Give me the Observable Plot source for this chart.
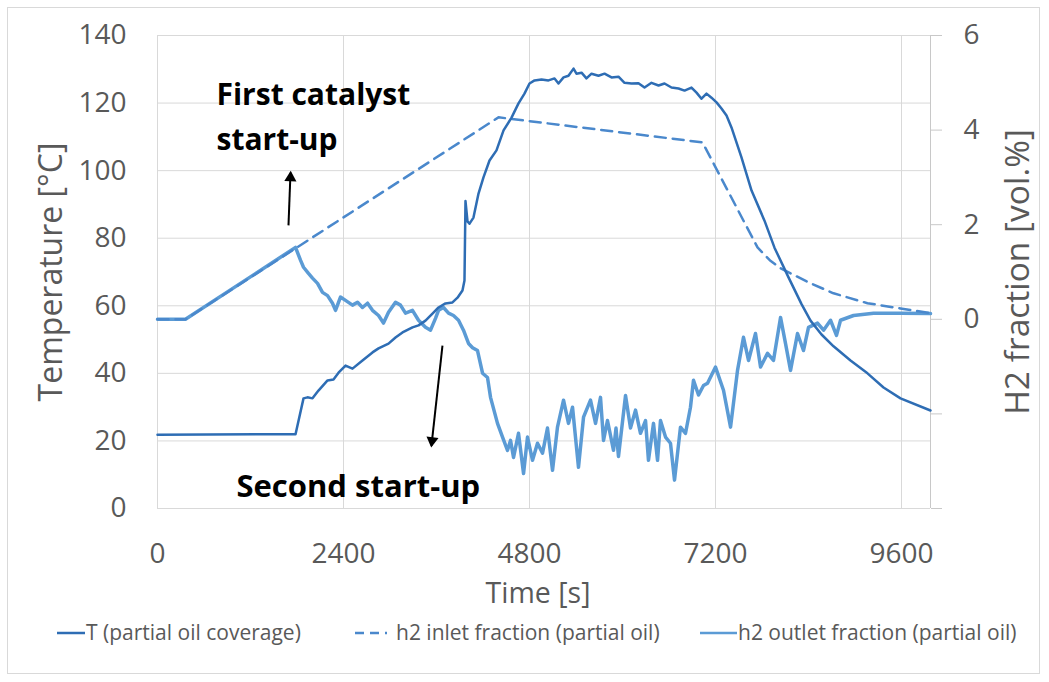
<!DOCTYPE html>
<html><head><meta charset="utf-8">
<script src="https://cdn.jsdelivr.net/npm/d3@7"></script>
<script src="https://cdn.jsdelivr.net/npm/@observablehq/plot@0.6"></script>
<style>
body{margin:0;background:#fff;font-family:"Open Sans",Lato,sans-serif;}
#wrap{position:relative;width:1049px;height:682px;overflow:hidden;background:#fff}
#border{position:absolute;left:7px;top:7px;width:1033px;height:667px;border:1px solid #d9d9d9;box-sizing:border-box}
#chart svg{display:block}
#legend{position:relative;width:1049px;height:25px;font-size:21px;color:#595959;line-height:25px}
#legend .item{position:absolute;top:0;white-space:nowrap;display:flex;align-items:center;height:25px}
#legend svg{display:block;margin-right:1px}
</style></head><body>
<div id="wrap"><div id="border"></div><div id="chart"></div><div id="legend"></div></div>
<script>
// Temperature (left axis, °C)
const time_T = [0, 1781, 1884, 1935, 2000, 2077, 2194, 2271, 2336, 2426, 2516, 2645, 2774, 2852, 2981, 3071, 3161, 3290, 3368, 3458, 3548, 3626, 3716, 3806, 3871, 3935, 3961, 3974, 4000, 4026, 4077, 4142, 4206, 4284, 4374, 4465, 4568, 4658, 4735, 4800, 4865, 4955, 5045, 5123, 5174, 5239, 5303, 5368, 5406, 5471, 5535, 5600, 5690, 5768, 5858, 5948, 6026, 6116, 6206, 6284, 6374, 6465, 6542, 6632, 6723, 6800, 6890, 6955, 7019, 7084, 7148, 7213, 7277, 7342, 7406, 7535, 7665, 7832, 7961, 8142, 8310, 8426, 8568, 8723, 8942, 9161, 9368, 9587, 9974];
const temp_T = [21.8, 22, 32.6, 32.9, 32.6, 34.9, 37.9, 38.2, 40.2, 42.3, 41.4, 43.8, 46.2, 47.4, 48.8, 50.6, 52.1, 53.6, 54.2, 55.6, 57.7, 59.5, 60.7, 61, 62.4, 64.5, 67.5, 91, 85, 84.3, 86.1, 93.2, 98, 103, 106, 111.9, 115.7, 119.9, 122.8, 125.8, 126.7, 127, 126.7, 127.3, 125.8, 127.6, 128.1, 130.2, 128.7, 129, 127.3, 128.7, 128.1, 128.7, 127.6, 127.8, 126, 125.8, 125.9, 124.6, 126, 125.2, 125.8, 124.6, 124.3, 123.7, 124.6, 123.1, 121.3, 122.8, 121.6, 120.2, 118.4, 116.3, 112.8, 103.9, 94.1, 85.2, 77.2, 68.4, 60.5, 55.6, 51.5, 48, 43.8, 40, 35.8, 32.6, 29];

// H2 inlet fraction (right axis, vol.%)
const time_in = [0, 361, 1781, 4400, 7032, 7742, 7900, 8039, 8400, 8723, 9161, 9587, 9974];
const h2_in = [0, 0, 1.5, 4.27, 3.74, 1.52, 1.25, 1.08, 0.78, 0.55, 0.34, 0.23, 0.13];

// H2 outlet fraction (right axis, vol.%)
const time_out = [0, 361, 1781, 1845, 1884, 1948, 2000, 2065, 2129, 2194, 2258, 2297, 2361, 2426, 2516, 2581, 2645, 2710, 2774, 2852, 2916, 2981, 3071, 3135, 3200, 3290, 3368, 3458, 3523, 3587, 3626, 3690, 3755, 3819, 3884, 3948, 4013, 4065, 4129, 4194, 4258, 4297, 4387, 4452, 4516, 4555, 4594, 4658, 4723, 4774, 4839, 4903, 4968, 5032, 5097, 5161, 5239, 5303, 5355, 5432, 5497, 5587, 5652, 5716, 5755, 5806, 5884, 5916, 5948, 6039, 6103, 6168, 6232, 6297, 6335, 6400, 6452, 6490, 6555, 6619, 6671, 6748, 6813, 6877, 6916, 6981, 7045, 7097, 7200, 7303, 7394, 7484, 7561, 7626, 7716, 7781, 7871, 7948, 8039, 8103, 8168, 8258, 8335, 8400, 8516, 8594, 8684, 8761, 8813, 8981, 9239, 9587, 9974];
const h2_out = [0, 0, 1.52, 1.25, 1.1, 0.97, 0.87, 0.76, 0.57, 0.5, 0.34, 0.19, 0.47, 0.4, 0.3, 0.36, 0.25, 0.34, 0.19, 0.08, -0.08, 0.15, 0.36, 0.3, 0.13, 0.19, -0.02, -0.17, -0.23, 0.02, 0.19, 0.25, 0.13, 0.08, -0.02, -0.23, -0.51, -0.6, -0.66, -1.14, -1.23, -1.65, -2.2, -2.49, -2.77, -2.56, -2.92, -2.41, -3.26, -2.49, -2.98, -2.62, -2.83, -2.3, -3.19, -2.28, -1.71, -2.2, -1.86, -3.13, -2.07, -1.71, -2.2, -1.65, -2.56, -2.14, -2.77, -2.3, -2.9, -1.61, -2.3, -1.92, -2.41, -2.14, -2.98, -2.2, -2.98, -2.14, -2.49, -2.62, -3.4, -2.28, -2.41, -1.86, -1.29, -1.6, -1.4, -1.35, -1.01, -1.5, -2.28, -1.08, -0.38, -0.87, -0.3, -1.01, -0.72, -0.87, 0.04, -0.51, -1.08, -0.3, -0.66, -0.17, -0.08, -0.23, -0.02, -0.34, -0.02, 0.08, 0.13, 0.13, 0.12];

// Axis ticks and labels
const xTicks = [0, 2400, 4800, 7200, 9600];
const yTicksLeft = [0, 20, 40, 60, 80, 100, 120, 140];
const yTicksRight = [-4, -2, 0, 2, 4, 6];
const yTickLabelsRight = ["", "", "0", "2", "4", "6"];
const xTitle = "Time [s]";
const yTitleLeft = "Temperature [°C]";
const yTitleRight = "H2 fraction [vol.%]";
const seriesNames = ["T (partial oil coverage)", "h2 inlet fraction (partial oil)", "h2 outlet fraction (partial oil)"];
const seriesColors = ["#2E6DB4", "#4A88CC", "#5B9BD5"];

// Annotations
const noteTexts = ["First catalyst", "start-up", "Second start-up"];
const noteSizes = [30, 30, 31];
const noteX = [761, 761, 1019];
const noteY = [122.2, 108.9, 6.2];
const arrowFrom = [[1690, 83.8], [3677, 48.2]];
const arrowTo = [[1716, 99.4], [3535, 18.6]];

const xMax = 9974;
const toLeft = h => (h + 4) * 14;   // right axis -4..6 onto left axis 0..140

const T = time_T.map((t, i) => ({t, v: temp_T[i]}));
const inlet = time_in.map((t, i) => ({t, v: toLeft(h2_in[i])}));
const outlet = time_out.map((t, i) => ({t, v: toLeft(h2_out[i])}));
const notes = noteTexts.map((s, i) => ({s, x: noteX[i], y: noteY[i], size: noteSizes[i]}));
const arrows = arrowFrom.map((f, i) => ({x1: f[0], y1: f[1], x2: arrowTo[i][0], y2: arrowTo[i][1]}));
const rightMap = new Map(yTicksRight.map((d, i) => [toLeft(d), yTickLabelsRight[i]]));

const chart = Plot.plot({
  width: 1049, height: 620,
  marginLeft: 157, marginRight: 119, marginTop: 35, marginBottom: 112,
  style: {fontFamily: "'Open Sans', Lato, sans-serif", background: "transparent"},
  x: {domain: [0, xMax]},
  y: {domain: [0, 140]},
  marks: [
    Plot.gridX(xTicks, {stroke: "#d9d9d9", strokeOpacity: 1}),
    Plot.gridY(yTicksLeft, {stroke: "#d9d9d9", strokeOpacity: 1}),
    Plot.ruleX([xMax], {stroke: "#c8c8c8"}),
    Plot.axisX(xTicks, {tickSize: 0, tickPadding: 35, fontSize: 28, fill: "#595959", label: null, tickFormat: d => String(d)}),
    Plot.axisY(yTicksLeft, {anchor: "left", tickSize: 0, tickPadding: 31, fontSize: 28, fill: "#595959", label: null, tickFormat: d => String(d)}),
    Plot.axisY(yTicksRight.map(toLeft), {anchor: "right", tickSize: 11, tickPadding: 22, fontSize: 28, fill: "#595959", stroke: "#c8c8c8", tickFormat: d => rightMap.get(d), label: null}),
    Plot.text([yTitleLeft], {frameAnchor: "left", textAnchor: "middle", dx: -106, rotate: -90, fontSize: 32, fill: "#595959"}),
    Plot.text([yTitleRight], {frameAnchor: "right", textAnchor: "middle", dx: 88, rotate: -90, fontSize: 33.5, fill: "#595959"}),
    Plot.text([xTitle], {frameAnchor: "bottom", dy: 94, dx: -6, fontSize: 28.5, fill: "#595959"}),
    Plot.line(outlet, {x: "t", y: "v", stroke: seriesColors[2], strokeWidth: 3.5, strokeLinejoin: "round"}),
    Plot.line(inlet, {x: "t", y: "v", stroke: seriesColors[1], strokeWidth: 2.5, strokeDasharray: "11,7"}),
    Plot.line(T, {x: "t", y: "v", stroke: seriesColors[0], strokeWidth: 2.5, strokeLinejoin: "round"}),
    Plot.text(notes.slice(0, 2), {x: "x", y: "y", text: "s", textAnchor: "start", fontSize: noteSizes[0], fontWeight: "bold", fill: "#000"}),
    Plot.text(notes.slice(2), {x: "x", y: "y", text: "s", textAnchor: "start", fontSize: noteSizes[2], fontWeight: "bold", fill: "#000"}),
    Plot.link(arrows, {x1: "x1", y1: "y1", x2: "x2", y2: "y2", stroke: "#000", strokeWidth: 2}),
    Plot.dot([arrows[0]], {x: "x2", y: "y2", symbol: "triangle", r: 4.5, fill: "#000", rotate: 2, dy: 5}),
    Plot.dot([arrows[1]], {x: "x2", y: "y2", symbol: "triangle", r: 4.5, fill: "#000", rotate: 187, dy: -5, dx: 0.6})
  ]
});
document.getElementById("chart").appendChild(chart);

// Legend below the chart
const legend = document.getElementById("legend");
const legendX = [57, 355, 700];
const swatchW = [28, 32, 37];
seriesNames.forEach((name, i) => {
  const item = document.createElement("div");
  item.className = "item";
  item.style.left = legendX[i] + "px";
  const dash = i === 1 ? ' stroke-dasharray="9,6"' : "";
  item.innerHTML = `<svg width="${swatchW[i]}" height="6"><line x1="0" y1="3" x2="${swatchW[i]}" y2="3" stroke="${seriesColors[i]}" stroke-width="2.5"${dash}/></svg><span>${name}</span>`;
  if (i === 1) item.querySelector("svg").style.marginRight = "9px";
  legend.appendChild(item);
});
</script>
</body></html>
